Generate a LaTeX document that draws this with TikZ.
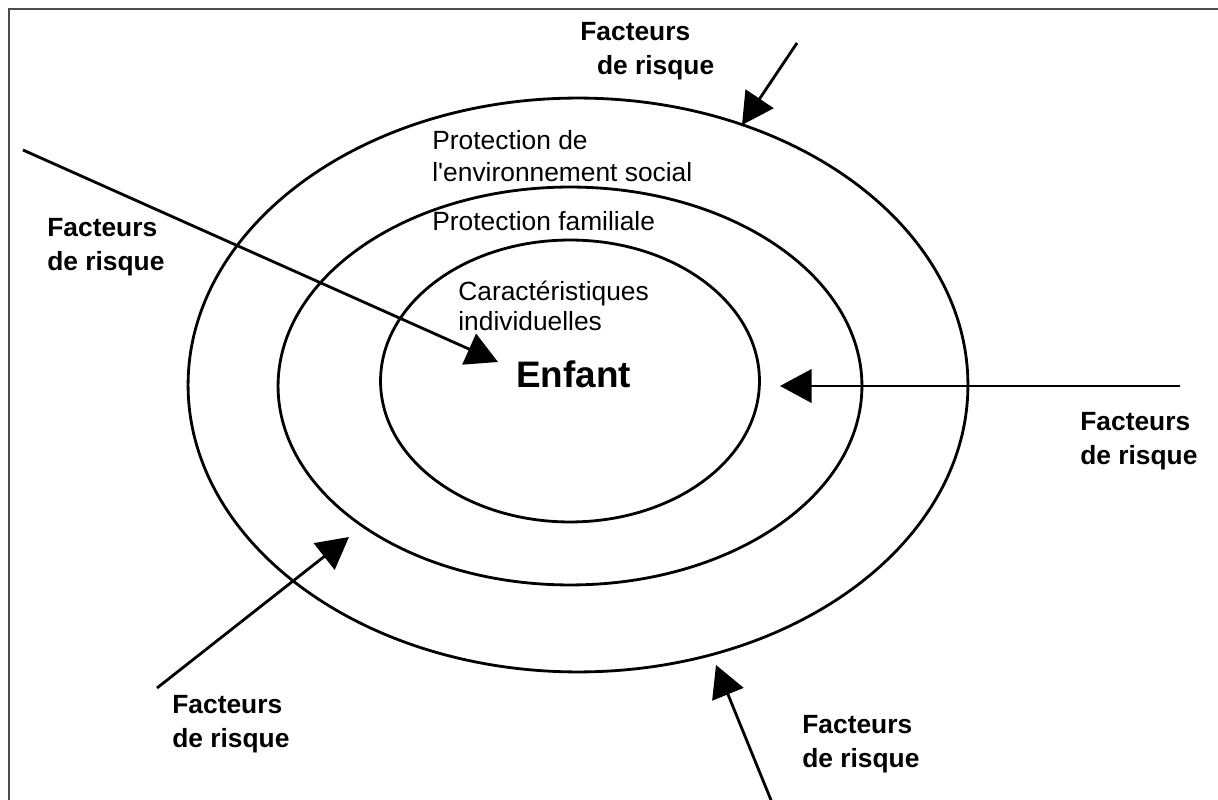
\documentclass[tikz,border=0pt]{standalone}
\usepackage{fontspec}
\setmainfont{Liberation Sans}
\usetikzlibrary{arrows.meta,shapes.geometric,positioning}

\tikzset{
  ring/.style={ellipse, draw, line width=1.6pt, inner sep=0pt},
  risk/.style={-{Triangle[length=18pt,width=19pt]}, line width=1.6pt},
  risklabel/.style={font=\fontsize{15}{19.3}\selectfont\bfseries, align=left, anchor=north west, inner sep=0pt},
  layer/.style={font=\fontsize{15}{18.2}\selectfont, align=left, anchor=north west, inner sep=0pt}
}

\begin{document}
\begin{tikzpicture}[x=0.02cm, y=-0.02cm]
  \useasboundingbox (0,0) rectangle (1218,800);
  \draw [line width=1.2pt, black!70] (9,830) -- (9,9) -- (1250,9);

  % the three rings
  \node [ring, minimum width=15.6cm, minimum height=11.48cm] (outer) at (578,385) {};
  \node [ring, minimum width=11.68cm, minimum height=7.96cm] (middle) at (570,386) {};
  \node [ring, minimum width=7.58cm, minimum height=5.64cm] (inner) at (570,381) {};

  % ring labels
  \node [layer] (social) at (432,130) {Protection de\\l\textquotesingle environnement social};
  \node [layer] (family) at (432,211) {Protection familiale};
  \node [layer, font=\fontsize{15}{17}\selectfont] (indiv) at (458,281) {Caractéristiques\\individuelles};
  \node [anchor=north west, inner sep=0pt, font=\fontsize{21}{25}\selectfont\bfseries] (child) at (516,360) {Enfant};

  % risk factors
  \node [risklabel] (rtop) at (580,22) {Facteurs\\\hspace*{9.5pt}de risque};
  \node [risklabel] (rleft) at (47,218) {Facteurs\\de risque};
  \node [risklabel] (rright) at (1080,412) {Facteurs\\de risque};
  \node [risklabel] (rbl) at (172,695) {Facteurs\\de risque};
  \node [risklabel] (rbr) at (802,715) {Facteurs\\de risque};

  % arrows
  \coordinate (a1) at (23,150);   \coordinate (t1) at (498,362);
  \coordinate (a2) at (797,43);   \coordinate (t2) at (742,125);
  \coordinate (a3) at (1180,386); \coordinate (t3) at (780,386);
  \coordinate (a4) at (157,688);  \coordinate (t4) at (349,537);
  \coordinate (a5) at (773,805);  \coordinate (t5) at (716,665);
  \draw [risk] (a1) -- (t1);
  \draw [risk] (a2) -- (t2);
  \draw [risk] (a3) -- (t3);
  \draw [risk] (a4) -- (t4);
  \draw [risk] (a5) -- (t5);
\end{tikzpicture}
\end{document}
